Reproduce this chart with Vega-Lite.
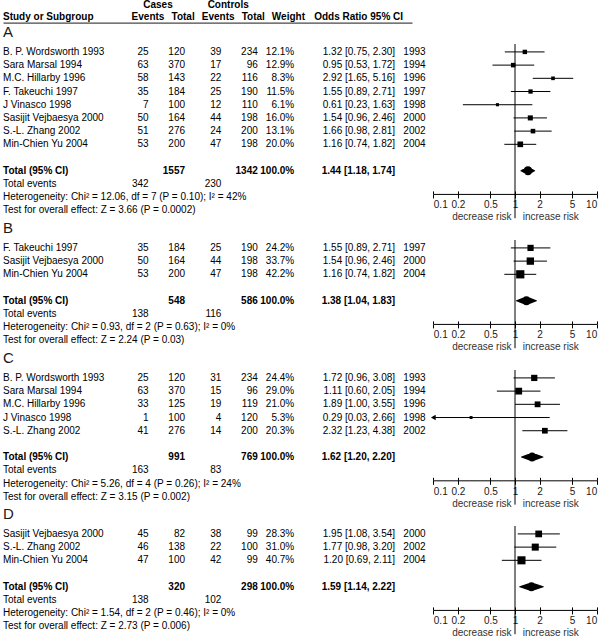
{
  "$schema": "https://vega.github.io/schema/vega-lite/v6.json",
  "padding": 0,
  "bounds": "flush",
  "spacing": 21,
  "config": {
    "view": {"stroke": null},
    "font": "Liberation Sans",
    "mark": {"color": "#1a1a1a"},
    "text": {"font": "Liberation Sans", "fontSize": 10, "baseline": "middle"},
    "title": {"font": "Liberation Sans", "fontSize": 15, "fontWeight": "normal", "color": "#1a1a1a", "anchor": "start", "frame": "group", "offset": 4, "baseline": "alphabetic", "dx": 3},
    "axis": {"labelFont": "Liberation Sans", "titleFont": "Liberation Sans"}
  },
  "datasets": {
    "header": [
      {"lvl": "grp", "key": "ce", "txt": "Cases"},
      {"lvl": "grp", "key": "xe", "txt": "Controls"},
      {"lvl": "col", "key": "name", "txt": "Study or Subgroup"},
      {"lvl": "col", "key": "ce", "txt": "Events"},
      {"lvl": "col", "key": "ct", "txt": "Total"},
      {"lvl": "col", "key": "xe", "txt": "Events"},
      {"lvl": "col", "key": "xt", "txt": "Total"},
      {"lvl": "col", "key": "w", "txt": "Weight"},
      {"lvl": "col", "key": "or", "txt": "Odds Ratio 95% CI"}
    ],
    "studies": [
      {"panel": "A", "lbl": "B. P. Wordsworth 1993", "ce": 25, "ct": 120, "xe": 39, "xt": 234, "w": 0.121, "or": 1.32, "lo": 0.75, "hi": 2.30, "ci": "1.32 [0.75, 2.30]", "yr": 1993},
      {"panel": "A", "lbl": "Sara Marsal 1994", "ce": 63, "ct": 370, "xe": 17, "xt": 96, "w": 0.129, "or": 0.95, "lo": 0.53, "hi": 1.72, "ci": "0.95 [0.53, 1.72]", "yr": 1994},
      {"panel": "A", "lbl": "M.C. Hillarby 1996", "ce": 58, "ct": 143, "xe": 22, "xt": 116, "w": 0.083, "or": 2.92, "lo": 1.65, "hi": 5.16, "ci": "2.92 [1.65, 5.16]", "yr": 1996},
      {"panel": "A", "lbl": "F. Takeuchi 1997", "ce": 35, "ct": 184, "xe": 25, "xt": 190, "w": 0.115, "or": 1.55, "lo": 0.89, "hi": 2.71, "ci": "1.55 [0.89, 2.71]", "yr": 1997},
      {"panel": "A", "lbl": "J Vinasco 1998", "ce": 7, "ct": 100, "xe": 12, "xt": 110, "w": 0.061, "or": 0.61, "lo": 0.23, "hi": 1.63, "ci": "0.61 [0.23, 1.63]", "yr": 1998},
      {"panel": "A", "lbl": "Sasijit Vejbaesya 2000", "ce": 50, "ct": 164, "xe": 44, "xt": 198, "w": 0.160, "or": 1.54, "lo": 0.96, "hi": 2.46, "ci": "1.54 [0.96, 2.46]", "yr": 2000},
      {"panel": "A", "lbl": "S.-L. Zhang 2002", "ce": 51, "ct": 276, "xe": 24, "xt": 200, "w": 0.131, "or": 1.66, "lo": 0.98, "hi": 2.81, "ci": "1.66 [0.98, 2.81]", "yr": 2002},
      {"panel": "A", "lbl": "Min-Chien Yu 2004", "ce": 53, "ct": 200, "xe": 47, "xt": 198, "w": 0.200, "or": 1.16, "lo": 0.74, "hi": 1.82, "ci": "1.16 [0.74, 1.82]", "yr": 2004},
      {"panel": "B", "lbl": "F. Takeuchi 1997", "ce": 35, "ct": 184, "xe": 25, "xt": 190, "w": 0.242, "or": 1.55, "lo": 0.89, "hi": 2.71, "ci": "1.55 [0.89, 2.71]", "yr": 1997},
      {"panel": "B", "lbl": "Sasijit Vejbaesya 2000", "ce": 50, "ct": 164, "xe": 44, "xt": 198, "w": 0.337, "or": 1.54, "lo": 0.96, "hi": 2.46, "ci": "1.54 [0.96, 2.46]", "yr": 2000},
      {"panel": "B", "lbl": "Min-Chien Yu 2004", "ce": 53, "ct": 200, "xe": 47, "xt": 198, "w": 0.422, "or": 1.16, "lo": 0.74, "hi": 1.82, "ci": "1.16 [0.74, 1.82]", "yr": 2004},
      {"panel": "C", "lbl": "B. P. Wordsworth 1993", "ce": 25, "ct": 120, "xe": 31, "xt": 234, "w": 0.244, "or": 1.72, "lo": 0.96, "hi": 3.08, "ci": "1.72 [0.96, 3.08]", "yr": 1993},
      {"panel": "C", "lbl": "Sara Marsal 1994", "ce": 63, "ct": 370, "xe": 15, "xt": 96, "w": 0.290, "or": 1.11, "lo": 0.60, "hi": 2.05, "ci": "1.11 [0.60, 2.05]", "yr": 1994},
      {"panel": "C", "lbl": "M.C. Hillarby 1996", "ce": 33, "ct": 125, "xe": 19, "xt": 119, "w": 0.210, "or": 1.89, "lo": 1.00, "hi": 3.55, "ci": "1.89 [1.00, 3.55]", "yr": 1996},
      {"panel": "C", "lbl": "J Vinasco 1998", "ce": 1, "ct": 100, "xe": 4, "xt": 120, "w": 0.053, "or": 0.29, "lo": 0.03, "hi": 2.66, "ci": "0.29 [0.03, 2.66]", "yr": 1998},
      {"panel": "C", "lbl": "S.-L. Zhang 2002", "ce": 41, "ct": 276, "xe": 14, "xt": 200, "w": 0.203, "or": 2.32, "lo": 1.23, "hi": 4.38, "ci": "2.32 [1.23, 4.38]", "yr": 2002},
      {"panel": "D", "lbl": "Sasijit Vejbaesya 2000", "ce": 45, "ct": 82, "xe": 38, "xt": 99, "w": 0.283, "or": 1.95, "lo": 1.08, "hi": 3.54, "ci": "1.95 [1.08, 3.54]", "yr": 2000},
      {"panel": "D", "lbl": "S.-L. Zhang 2002", "ce": 46, "ct": 138, "xe": 22, "xt": 100, "w": 0.310, "or": 1.77, "lo": 0.98, "hi": 3.20, "ci": "1.77 [0.98, 3.20]", "yr": 2002},
      {"panel": "D", "lbl": "Min-Chien Yu 2004", "ce": 47, "ct": 100, "xe": 42, "xt": 99, "w": 0.407, "or": 1.20, "lo": 0.69, "hi": 2.11, "ci": "1.20 [0.69, 2.11]", "yr": 2004}
    ],
    "summary": [
      {"panel": "A", "lbl": "Total (95% CI)", "ct": 1557, "xt": 1342, "w": 1, "or": 1.44, "lo": 1.18, "hi": 1.74, "ci": "1.44 [1.18, 1.74]"},
      {"panel": "A", "lbl": "Total events", "ce": 342, "xe": 230},
      {"panel": "A", "lbl": "Heterogeneity", "txt": "Heterogeneity: Chi² = 12.06, df = 7 (P = 0.10); I² = 42%"},
      {"panel": "A", "lbl": "Test", "txt": "Test for overall effect: Z = 3.66 (P = 0.0002)"},
      {"panel": "B", "lbl": "Total (95% CI)", "ct": 548, "xt": 586, "w": 1, "or": 1.38, "lo": 1.04, "hi": 1.83, "ci": "1.38 [1.04, 1.83]"},
      {"panel": "B", "lbl": "Total events", "ce": 138, "xe": 116},
      {"panel": "B", "lbl": "Heterogeneity", "txt": "Heterogeneity: Chi² = 0.93, df = 2 (P = 0.63); I² = 0%"},
      {"panel": "B", "lbl": "Test", "txt": "Test for overall effect: Z = 2.24 (P = 0.03)"},
      {"panel": "C", "lbl": "Total (95% CI)", "ct": 991, "xt": 769, "w": 1, "or": 1.62, "lo": 1.20, "hi": 2.20, "ci": "1.62 [1.20, 2.20]"},
      {"panel": "C", "lbl": "Total events", "ce": 163, "xe": 83},
      {"panel": "C", "lbl": "Heterogeneity", "txt": "Heterogeneity: Chi² = 5.26, df = 4 (P = 0.26); I² = 24%"},
      {"panel": "C", "lbl": "Test", "txt": "Test for overall effect: Z = 3.15 (P = 0.002)"},
      {"panel": "D", "lbl": "Total (95% CI)", "ct": 320, "xt": 298, "w": 1, "or": 1.59, "lo": 1.14, "hi": 2.22, "ci": "1.59 [1.14, 2.22]"},
      {"panel": "D", "lbl": "Total events", "ce": 138, "xe": 102},
      {"panel": "D", "lbl": "Heterogeneity", "txt": "Heterogeneity: Chi² = 1.54, df = 2 (P = 0.46); I² = 0%"},
      {"panel": "D", "lbl": "Test", "txt": "Test for overall effect: Z = 2.73 (P = 0.006)"}
    ]
  },
  "vconcat": [
    {
      "width": 600, "height": 22.6,
      "data": {"name": "header"},
      "encoding": {"y": {"field": "lvl", "type": "nominal", "scale": {"type": "point", "domain": ["grp", "col"], "padding": 0.44}, "axis": null}},
      "layer": [
        {"transform": [{"filter": "datum.lvl === 'grp'"}], "mark": {"type": "text", "fontWeight": "bold", "dx": 10},
         "encoding": {"x": {"field": "key", "type": "nominal", "scale": {"type": "point", "domain": ["name","h1","h2","h3","ce","ct","xe","xt","w","h9","or"], "range": [3, 412], "padding": 0.8262, "align": 0.0793}, "axis": {"orient": "bottom", "labels": false, "ticks": false, "domain": true, "domainColor": "#1a1a1a", "domainWidth": 1, "title": null, "grid": false}},
                      "text": {"field": "txt", "type": "nominal"}}},
        {"transform": [{"filter": "datum.key === 'name'"}], "mark": {"type": "text", "fontWeight": "bold", "align": "left", "dx": -4.6},
         "encoding": {"x": {"field": "key", "type": "nominal", "scale": {"type": "point", "domain": ["name","h1","h2","h3","ce","ct","xe","xt","w","h9","or"], "range": [3, 412], "padding": 0.8262, "align": 0.0793}, "axis": {"orient": "bottom", "labels": false, "ticks": false, "domain": true, "domainColor": "#1a1a1a", "domainWidth": 1, "title": null, "grid": false}},
                      "text": {"field": "txt", "type": "nominal"}}},
        {"transform": [{"filter": "datum.lvl === 'col' && datum.key !== 'name'"}], "mark": {"type": "text", "fontWeight": "bold"},
         "encoding": {"x": {"field": "key", "type": "nominal", "scale": {"type": "point", "domain": ["name","h1","h2","h3","ce","ct","xe","xt","w","h9","or"], "range": [3, 412], "padding": 0.8262, "align": 0.0793}, "axis": {"orient": "bottom", "labels": false, "ticks": false, "domain": true, "domainColor": "#1a1a1a", "domainWidth": 1, "title": null, "grid": false}},
                      "text": {"field": "txt", "type": "nominal"}}}
      ]
    },
    {
      "width": 600, "height": 174.24,
      "title": "A",
      "resolve": {"scale": {"x": "independent"}},
      "layer": [
        {"data": {"name": "studies"}, "transform": [{"filter": "datum.panel === 'A'"}],
         "encoding": {"y": {"field": "lbl", "type": "nominal", "scale": {"type": "point", "domain": ["B. P. Wordsworth 1993","Sara Marsal 1994","M.C. Hillarby 1996","F. Takeuchi 1997","J Vinasco 1998","Sasijit Vejbaesya 2000","S.-L. Zhang 2002","Min-Chien Yu 2004"," ","Total (95% CI)","Total events","Heterogeneity","Test"], "padding": 0.6}, "axis": null}},
         "layer": [
           {"mark": {"type": "text", "align": "left"}, "encoding": {"x": {"datum": "name", "type": "nominal", "scale": {"type": "point", "domain": ["name","s1","s2","s3","ce","ct","xe","xt","w","s9","s10","yr"], "range": [3.06, 403.35], "padding": 0}, "axis": null}, "text": {"field": "lbl", "type": "nominal"}}},
           {"transform": [{"fold": ["ce","ct","xe","xt"], "as": ["col","val"]}], "mark": {"type": "text", "align": "right"}, "encoding": {"x": {"field": "col", "type": "nominal", "scale": {"type": "point", "domain": ["name","s1","s2","s3","ce","ct","xe","xt","w","s9","s10","yr"], "range": [3.06, 403.35], "padding": 0}, "axis": null}, "text": {"field": "val", "type": "nominal"}}},
           {"mark": {"type": "text", "align": "right"}, "encoding": {"x": {"datum": "w", "type": "nominal", "scale": {"type": "point", "domain": ["name","s1","s2","s3","ce","ct","xe","xt","w","s9","s10","yr"], "range": [3.06, 403.35], "padding": 0}, "axis": null}, "text": {"field": "w", "type": "quantitative", "format": ".1%"}}},
           {"mark": {"type": "text", "align": "right", "dx": -8.3}, "encoding": {"x": {"datum": "yr", "type": "nominal", "scale": {"type": "point", "domain": ["name","s1","s2","s3","ce","ct","xe","xt","w","s9","s10","yr"], "range": [3.06, 403.35], "padding": 0}, "axis": null}, "text": {"field": "ci", "type": "nominal"}}},
           {"mark": {"type": "text", "align": "left"}, "encoding": {"x": {"datum": "yr", "type": "nominal", "scale": {"type": "point", "domain": ["name","s1","s2","s3","ce","ct","xe","xt","w","s9","s10","yr"], "range": [3.06, 403.35], "padding": 0}, "axis": null}, "text": {"field": "yr", "type": "nominal"}}}
         ]},
        {"data": {"name": "summary"}, "transform": [{"filter": "datum.panel === 'A'"}],
         "encoding": {"y": {"field": "lbl", "type": "nominal", "scale": {"type": "point", "domain": ["B. P. Wordsworth 1993","Sara Marsal 1994","M.C. Hillarby 1996","F. Takeuchi 1997","J Vinasco 1998","Sasijit Vejbaesya 2000","S.-L. Zhang 2002","Min-Chien Yu 2004"," ","Total (95% CI)","Total events","Heterogeneity","Test"], "padding": 0.6}, "axis": null}},
         "layer": [
           {"transform": [{"filter": "datum.lbl === 'Total (95% CI)'"}], "mark": {"type": "text", "align": "left", "fontWeight": "bold"}, "encoding": {"x": {"datum": "name", "type": "nominal", "scale": {"type": "point", "domain": ["name","s1","s2","s3","ce","ct","xe","xt","w","s9","s10","yr"], "range": [3.06, 403.35], "padding": 0}, "axis": null}, "text": {"field": "lbl", "type": "nominal"}}},
           {"transform": [{"filter": "datum.lbl === 'Total (95% CI)'"}, {"fold": ["ct","xt"], "as": ["col","val"]}], "mark": {"type": "text", "align": "right", "fontWeight": "bold"}, "encoding": {"x": {"field": "col", "type": "nominal", "scale": {"type": "point", "domain": ["name","s1","s2","s3","ce","ct","xe","xt","w","s9","s10","yr"], "range": [3.06, 403.35], "padding": 0}, "axis": null}, "text": {"field": "val", "type": "nominal"}}},
           {"transform": [{"filter": "datum.lbl === 'Total (95% CI)'"}], "mark": {"type": "text", "align": "right", "fontWeight": "bold"}, "encoding": {"x": {"datum": "w", "type": "nominal", "scale": {"type": "point", "domain": ["name","s1","s2","s3","ce","ct","xe","xt","w","s9","s10","yr"], "range": [3.06, 403.35], "padding": 0}, "axis": null}, "text": {"field": "w", "type": "quantitative", "format": ".1%"}}},
           {"transform": [{"filter": "datum.lbl === 'Total (95% CI)'"}], "mark": {"type": "text", "align": "right", "fontWeight": "bold", "dx": -8.3}, "encoding": {"x": {"datum": "yr", "type": "nominal", "scale": {"type": "point", "domain": ["name","s1","s2","s3","ce","ct","xe","xt","w","s9","s10","yr"], "range": [3.06, 403.35], "padding": 0}, "axis": null}, "text": {"field": "ci", "type": "nominal"}}},
           {"transform": [{"filter": "datum.lbl === 'Total events'"}], "mark": {"type": "text", "align": "left"}, "encoding": {"x": {"datum": "name", "type": "nominal", "scale": {"type": "point", "domain": ["name","s1","s2","s3","ce","ct","xe","xt","w","s9","s10","yr"], "range": [3.06, 403.35], "padding": 0}, "axis": null}, "text": {"field": "lbl", "type": "nominal"}}},
           {"transform": [{"filter": "datum.lbl === 'Total events'"}, {"fold": ["ce","xe"], "as": ["col","val"]}], "mark": {"type": "text", "align": "right"}, "encoding": {"x": {"field": "col", "type": "nominal", "scale": {"type": "point", "domain": ["name","s1","s2","s3","ce","ct","xe","xt","w","s9","s10","yr"], "range": [3.06, 403.35], "padding": 0}, "axis": null}, "text": {"field": "val", "type": "nominal"}}},
           {"transform": [{"filter": "isValid(datum.txt)"}], "mark": {"type": "text", "align": "left"}, "encoding": {"x": {"datum": "name", "type": "nominal", "scale": {"type": "point", "domain": ["name","s1","s2","s3","ce","ct","xe","xt","w","s9","s10","yr"], "range": [3.06, 403.35], "padding": 0}, "axis": null}, "text": {"field": "txt", "type": "nominal"}}}
         ]},
        {"data": {"name": "summary"}, "transform": [{"filter": "datum.panel === 'A' && datum.lbl === 'Total (95% CI)'"}],
         "mark": {"type": "rule", "color": "#000", "y2Offset": -24.32},
         "encoding": {"x": {"datum": 1, "type": "quantitative", "scale": {"type": "log", "domain": [0.1, 10], "range": [433.3, 596.7], "clamp": true, "nice": false},
           "axis": {"orient": "bottom", "offset": -24.32, "values": [0.1, 0.2, 0.5, 1, 2, 5, 10], "format": "~g", "labelFlush": true, "labelOverlap": false, "grid": false, "tickSize": 4, "tickColor": "#000", "domainColor": "#000", "labelColor": "#1a1a1a", "labelFontSize": 10, "labelPadding": 2, "title": "decrease risk\u00a0\u00a0\u00a0 increase risk", "titleFontSize": 10, "titleFontWeight": "normal", "titleColor": "#333", "titlePadding": 2}}}},
        {"data": {"name": "studies"}, "transform": [{"filter": "datum.panel === 'A'"}],
         "encoding": {"y": {"field": "lbl", "type": "nominal", "scale": {"type": "point", "domain": ["B. P. Wordsworth 1993","Sara Marsal 1994","M.C. Hillarby 1996","F. Takeuchi 1997","J Vinasco 1998","Sasijit Vejbaesya 2000","S.-L. Zhang 2002","Min-Chien Yu 2004"," ","Total (95% CI)","Total events","Heterogeneity","Test"], "padding": 0.6}, "axis": null}},
         "layer": [
           {"mark": {"type": "rule", "color": "#000"}, "encoding": {"x": {"field": "lo", "type": "quantitative", "scale": {"type": "log", "domain": [0.1, 10], "range": [433.3, 596.7], "clamp": true, "nice": false}, "axis": null}, "x2": {"field": "hi"}}},
           {"mark": {"type": "point", "shape": "square", "filled": true, "opacity": 1, "color": "#000"}, "encoding": {"x": {"field": "or", "type": "quantitative", "scale": {"type": "log", "domain": [0.1, 10], "range": [433.3, 596.7], "clamp": true, "nice": false}, "axis": null}, "size": {"field": "w", "type": "quantitative", "scale": {"domain": [0, 1], "range": [0, 160]}, "legend": null}}},
           {"transform": [{"filter": "datum.lo < 0.1"}], "mark": {"type": "point", "shape": "triangle-left", "filled": true, "opacity": 1, "size": 30, "color": "#000"}, "encoding": {"x": {"field": "lo", "type": "quantitative", "scale": {"type": "log", "domain": [0.1, 10], "range": [433.3, 596.7], "clamp": true, "nice": false}, "axis": null}}}
         ]},
        {"data": {"name": "summary"}, "transform": [{"filter": "datum.panel === 'A' && datum.lbl === 'Total (95% CI)'"}, {"fold": ["lo","or","hi"], "as": ["k","v"]}],
         "mark": {"type": "trail", "color": "#000"},
         "encoding": {"x": {"field": "v", "type": "quantitative", "scale": {"type": "log", "domain": [0.1, 10], "range": [433.3, 596.7], "clamp": true, "nice": false}, "axis": {"orient": "bottom", "offset": -24.32, "values": [0.1, 0.2, 0.5, 1, 2, 5, 10], "labels": false, "domain": false, "grid": false, "tickSize": -3, "tickColor": "#000", "title": null}},
                      "y": {"field": "lbl", "type": "nominal", "scale": {"type": "point", "domain": ["B. P. Wordsworth 1993","Sara Marsal 1994","M.C. Hillarby 1996","F. Takeuchi 1997","J Vinasco 1998","Sasijit Vejbaesya 2000","S.-L. Zhang 2002","Min-Chien Yu 2004"," ","Total (95% CI)","Total events","Heterogeneity","Test"], "padding": 0.6}, "axis": null},
                      "size": {"condition": {"test": "datum.k === 'or'", "value": 9}, "value": 0}}}
      ]
    },
    {
      "width": 600, "height": 108.24,
      "title": "B",
      "resolve": {"scale": {"x": "independent"}},
      "layer": [
        {"data": {"name": "studies"}, "transform": [{"filter": "datum.panel === 'B'"}],
         "encoding": {"y": {"field": "lbl", "type": "nominal", "scale": {"type": "point", "domain": ["F. Takeuchi 1997","Sasijit Vejbaesya 2000","Min-Chien Yu 2004"," ","Total (95% CI)","Total events","Heterogeneity","Test"], "padding": 0.6}, "axis": null}},
         "layer": [
           {"mark": {"type": "text", "align": "left"}, "encoding": {"x": {"datum": "name", "type": "nominal", "scale": {"type": "point", "domain": ["name","s1","s2","s3","ce","ct","xe","xt","w","s9","s10","yr"], "range": [3.06, 403.35], "padding": 0}, "axis": null}, "text": {"field": "lbl", "type": "nominal"}}},
           {"transform": [{"fold": ["ce","ct","xe","xt"], "as": ["col","val"]}], "mark": {"type": "text", "align": "right"}, "encoding": {"x": {"field": "col", "type": "nominal", "scale": {"type": "point", "domain": ["name","s1","s2","s3","ce","ct","xe","xt","w","s9","s10","yr"], "range": [3.06, 403.35], "padding": 0}, "axis": null}, "text": {"field": "val", "type": "nominal"}}},
           {"mark": {"type": "text", "align": "right"}, "encoding": {"x": {"datum": "w", "type": "nominal", "scale": {"type": "point", "domain": ["name","s1","s2","s3","ce","ct","xe","xt","w","s9","s10","yr"], "range": [3.06, 403.35], "padding": 0}, "axis": null}, "text": {"field": "w", "type": "quantitative", "format": ".1%"}}},
           {"mark": {"type": "text", "align": "right", "dx": -8.3}, "encoding": {"x": {"datum": "yr", "type": "nominal", "scale": {"type": "point", "domain": ["name","s1","s2","s3","ce","ct","xe","xt","w","s9","s10","yr"], "range": [3.06, 403.35], "padding": 0}, "axis": null}, "text": {"field": "ci", "type": "nominal"}}},
           {"mark": {"type": "text", "align": "left"}, "encoding": {"x": {"datum": "yr", "type": "nominal", "scale": {"type": "point", "domain": ["name","s1","s2","s3","ce","ct","xe","xt","w","s9","s10","yr"], "range": [3.06, 403.35], "padding": 0}, "axis": null}, "text": {"field": "yr", "type": "nominal"}}}
         ]},
        {"data": {"name": "summary"}, "transform": [{"filter": "datum.panel === 'B'"}],
         "encoding": {"y": {"field": "lbl", "type": "nominal", "scale": {"type": "point", "domain": ["F. Takeuchi 1997","Sasijit Vejbaesya 2000","Min-Chien Yu 2004"," ","Total (95% CI)","Total events","Heterogeneity","Test"], "padding": 0.6}, "axis": null}},
         "layer": [
           {"transform": [{"filter": "datum.lbl === 'Total (95% CI)'"}], "mark": {"type": "text", "align": "left", "fontWeight": "bold"}, "encoding": {"x": {"datum": "name", "type": "nominal", "scale": {"type": "point", "domain": ["name","s1","s2","s3","ce","ct","xe","xt","w","s9","s10","yr"], "range": [3.06, 403.35], "padding": 0}, "axis": null}, "text": {"field": "lbl", "type": "nominal"}}},
           {"transform": [{"filter": "datum.lbl === 'Total (95% CI)'"}, {"fold": ["ct","xt"], "as": ["col","val"]}], "mark": {"type": "text", "align": "right", "fontWeight": "bold"}, "encoding": {"x": {"field": "col", "type": "nominal", "scale": {"type": "point", "domain": ["name","s1","s2","s3","ce","ct","xe","xt","w","s9","s10","yr"], "range": [3.06, 403.35], "padding": 0}, "axis": null}, "text": {"field": "val", "type": "nominal"}}},
           {"transform": [{"filter": "datum.lbl === 'Total (95% CI)'"}], "mark": {"type": "text", "align": "right", "fontWeight": "bold"}, "encoding": {"x": {"datum": "w", "type": "nominal", "scale": {"type": "point", "domain": ["name","s1","s2","s3","ce","ct","xe","xt","w","s9","s10","yr"], "range": [3.06, 403.35], "padding": 0}, "axis": null}, "text": {"field": "w", "type": "quantitative", "format": ".1%"}}},
           {"transform": [{"filter": "datum.lbl === 'Total (95% CI)'"}], "mark": {"type": "text", "align": "right", "fontWeight": "bold", "dx": -8.3}, "encoding": {"x": {"datum": "yr", "type": "nominal", "scale": {"type": "point", "domain": ["name","s1","s2","s3","ce","ct","xe","xt","w","s9","s10","yr"], "range": [3.06, 403.35], "padding": 0}, "axis": null}, "text": {"field": "ci", "type": "nominal"}}},
           {"transform": [{"filter": "datum.lbl === 'Total events'"}], "mark": {"type": "text", "align": "left"}, "encoding": {"x": {"datum": "name", "type": "nominal", "scale": {"type": "point", "domain": ["name","s1","s2","s3","ce","ct","xe","xt","w","s9","s10","yr"], "range": [3.06, 403.35], "padding": 0}, "axis": null}, "text": {"field": "lbl", "type": "nominal"}}},
           {"transform": [{"filter": "datum.lbl === 'Total events'"}, {"fold": ["ce","xe"], "as": ["col","val"]}], "mark": {"type": "text", "align": "right"}, "encoding": {"x": {"field": "col", "type": "nominal", "scale": {"type": "point", "domain": ["name","s1","s2","s3","ce","ct","xe","xt","w","s9","s10","yr"], "range": [3.06, 403.35], "padding": 0}, "axis": null}, "text": {"field": "val", "type": "nominal"}}},
           {"transform": [{"filter": "isValid(datum.txt)"}], "mark": {"type": "text", "align": "left"}, "encoding": {"x": {"datum": "name", "type": "nominal", "scale": {"type": "point", "domain": ["name","s1","s2","s3","ce","ct","xe","xt","w","s9","s10","yr"], "range": [3.06, 403.35], "padding": 0}, "axis": null}, "text": {"field": "txt", "type": "nominal"}}}
         ]},
        {"data": {"name": "summary"}, "transform": [{"filter": "datum.panel === 'B' && datum.lbl === 'Total (95% CI)'"}],
         "mark": {"type": "rule", "color": "#000", "y2Offset": -24.32},
         "encoding": {"x": {"datum": 1, "type": "quantitative", "scale": {"type": "log", "domain": [0.1, 10], "range": [433.3, 596.7], "clamp": true, "nice": false},
           "axis": {"orient": "bottom", "offset": -24.32, "values": [0.1, 0.2, 0.5, 1, 2, 5, 10], "format": "~g", "labelFlush": true, "labelOverlap": false, "grid": false, "tickSize": 4, "tickColor": "#000", "domainColor": "#000", "labelColor": "#1a1a1a", "labelFontSize": 10, "labelPadding": 2, "title": "decrease risk\u00a0\u00a0\u00a0 increase risk", "titleFontSize": 10, "titleFontWeight": "normal", "titleColor": "#333", "titlePadding": 2}}}},
        {"data": {"name": "studies"}, "transform": [{"filter": "datum.panel === 'B'"}],
         "encoding": {"y": {"field": "lbl", "type": "nominal", "scale": {"type": "point", "domain": ["F. Takeuchi 1997","Sasijit Vejbaesya 2000","Min-Chien Yu 2004"," ","Total (95% CI)","Total events","Heterogeneity","Test"], "padding": 0.6}, "axis": null}},
         "layer": [
           {"mark": {"type": "rule", "color": "#000"}, "encoding": {"x": {"field": "lo", "type": "quantitative", "scale": {"type": "log", "domain": [0.1, 10], "range": [433.3, 596.7], "clamp": true, "nice": false}, "axis": null}, "x2": {"field": "hi"}}},
           {"mark": {"type": "point", "shape": "square", "filled": true, "opacity": 1, "color": "#000"}, "encoding": {"x": {"field": "or", "type": "quantitative", "scale": {"type": "log", "domain": [0.1, 10], "range": [433.3, 596.7], "clamp": true, "nice": false}, "axis": null}, "size": {"field": "w", "type": "quantitative", "scale": {"domain": [0, 1], "range": [0, 160]}, "legend": null}}}
         ]},
        {"data": {"name": "summary"}, "transform": [{"filter": "datum.panel === 'B' && datum.lbl === 'Total (95% CI)'"}, {"fold": ["lo","or","hi"], "as": ["k","v"]}],
         "mark": {"type": "trail", "color": "#000"},
         "encoding": {"x": {"field": "v", "type": "quantitative", "scale": {"type": "log", "domain": [0.1, 10], "range": [433.3, 596.7], "clamp": true, "nice": false}, "axis": {"orient": "bottom", "offset": -24.32, "values": [0.1, 0.2, 0.5, 1, 2, 5, 10], "labels": false, "domain": false, "grid": false, "tickSize": -3, "tickColor": "#000", "title": null}},
                      "y": {"field": "lbl", "type": "nominal", "scale": {"type": "point", "domain": ["F. Takeuchi 1997","Sasijit Vejbaesya 2000","Min-Chien Yu 2004"," ","Total (95% CI)","Total events","Heterogeneity","Test"], "padding": 0.6}, "axis": null},
                      "size": {"condition": {"test": "datum.k === 'or'", "value": 9}, "value": 0}}}
      ]
    },
    {
      "width": 600, "height": 134.64,
      "title": "C",
      "resolve": {"scale": {"x": "independent"}},
      "layer": [
        {"data": {"name": "studies"}, "transform": [{"filter": "datum.panel === 'C'"}],
         "encoding": {"y": {"field": "lbl", "type": "nominal", "scale": {"type": "point", "domain": ["B. P. Wordsworth 1993","Sara Marsal 1994","M.C. Hillarby 1996","J Vinasco 1998","S.-L. Zhang 2002"," ","Total (95% CI)","Total events","Heterogeneity","Test"], "padding": 0.6}, "axis": null}},
         "layer": [
           {"mark": {"type": "text", "align": "left"}, "encoding": {"x": {"datum": "name", "type": "nominal", "scale": {"type": "point", "domain": ["name","s1","s2","s3","ce","ct","xe","xt","w","s9","s10","yr"], "range": [3.06, 403.35], "padding": 0}, "axis": null}, "text": {"field": "lbl", "type": "nominal"}}},
           {"transform": [{"fold": ["ce","ct","xe","xt"], "as": ["col","val"]}], "mark": {"type": "text", "align": "right"}, "encoding": {"x": {"field": "col", "type": "nominal", "scale": {"type": "point", "domain": ["name","s1","s2","s3","ce","ct","xe","xt","w","s9","s10","yr"], "range": [3.06, 403.35], "padding": 0}, "axis": null}, "text": {"field": "val", "type": "nominal"}}},
           {"mark": {"type": "text", "align": "right"}, "encoding": {"x": {"datum": "w", "type": "nominal", "scale": {"type": "point", "domain": ["name","s1","s2","s3","ce","ct","xe","xt","w","s9","s10","yr"], "range": [3.06, 403.35], "padding": 0}, "axis": null}, "text": {"field": "w", "type": "quantitative", "format": ".1%"}}},
           {"mark": {"type": "text", "align": "right", "dx": -8.3}, "encoding": {"x": {"datum": "yr", "type": "nominal", "scale": {"type": "point", "domain": ["name","s1","s2","s3","ce","ct","xe","xt","w","s9","s10","yr"], "range": [3.06, 403.35], "padding": 0}, "axis": null}, "text": {"field": "ci", "type": "nominal"}}},
           {"mark": {"type": "text", "align": "left"}, "encoding": {"x": {"datum": "yr", "type": "nominal", "scale": {"type": "point", "domain": ["name","s1","s2","s3","ce","ct","xe","xt","w","s9","s10","yr"], "range": [3.06, 403.35], "padding": 0}, "axis": null}, "text": {"field": "yr", "type": "nominal"}}}
         ]},
        {"data": {"name": "summary"}, "transform": [{"filter": "datum.panel === 'C'"}],
         "encoding": {"y": {"field": "lbl", "type": "nominal", "scale": {"type": "point", "domain": ["B. P. Wordsworth 1993","Sara Marsal 1994","M.C. Hillarby 1996","J Vinasco 1998","S.-L. Zhang 2002"," ","Total (95% CI)","Total events","Heterogeneity","Test"], "padding": 0.6}, "axis": null}},
         "layer": [
           {"transform": [{"filter": "datum.lbl === 'Total (95% CI)'"}], "mark": {"type": "text", "align": "left", "fontWeight": "bold"}, "encoding": {"x": {"datum": "name", "type": "nominal", "scale": {"type": "point", "domain": ["name","s1","s2","s3","ce","ct","xe","xt","w","s9","s10","yr"], "range": [3.06, 403.35], "padding": 0}, "axis": null}, "text": {"field": "lbl", "type": "nominal"}}},
           {"transform": [{"filter": "datum.lbl === 'Total (95% CI)'"}, {"fold": ["ct","xt"], "as": ["col","val"]}], "mark": {"type": "text", "align": "right", "fontWeight": "bold"}, "encoding": {"x": {"field": "col", "type": "nominal", "scale": {"type": "point", "domain": ["name","s1","s2","s3","ce","ct","xe","xt","w","s9","s10","yr"], "range": [3.06, 403.35], "padding": 0}, "axis": null}, "text": {"field": "val", "type": "nominal"}}},
           {"transform": [{"filter": "datum.lbl === 'Total (95% CI)'"}], "mark": {"type": "text", "align": "right", "fontWeight": "bold"}, "encoding": {"x": {"datum": "w", "type": "nominal", "scale": {"type": "point", "domain": ["name","s1","s2","s3","ce","ct","xe","xt","w","s9","s10","yr"], "range": [3.06, 403.35], "padding": 0}, "axis": null}, "text": {"field": "w", "type": "quantitative", "format": ".1%"}}},
           {"transform": [{"filter": "datum.lbl === 'Total (95% CI)'"}], "mark": {"type": "text", "align": "right", "fontWeight": "bold", "dx": -8.3}, "encoding": {"x": {"datum": "yr", "type": "nominal", "scale": {"type": "point", "domain": ["name","s1","s2","s3","ce","ct","xe","xt","w","s9","s10","yr"], "range": [3.06, 403.35], "padding": 0}, "axis": null}, "text": {"field": "ci", "type": "nominal"}}},
           {"transform": [{"filter": "datum.lbl === 'Total events'"}], "mark": {"type": "text", "align": "left"}, "encoding": {"x": {"datum": "name", "type": "nominal", "scale": {"type": "point", "domain": ["name","s1","s2","s3","ce","ct","xe","xt","w","s9","s10","yr"], "range": [3.06, 403.35], "padding": 0}, "axis": null}, "text": {"field": "lbl", "type": "nominal"}}},
           {"transform": [{"filter": "datum.lbl === 'Total events'"}, {"fold": ["ce","xe"], "as": ["col","val"]}], "mark": {"type": "text", "align": "right"}, "encoding": {"x": {"field": "col", "type": "nominal", "scale": {"type": "point", "domain": ["name","s1","s2","s3","ce","ct","xe","xt","w","s9","s10","yr"], "range": [3.06, 403.35], "padding": 0}, "axis": null}, "text": {"field": "val", "type": "nominal"}}},
           {"transform": [{"filter": "isValid(datum.txt)"}], "mark": {"type": "text", "align": "left"}, "encoding": {"x": {"datum": "name", "type": "nominal", "scale": {"type": "point", "domain": ["name","s1","s2","s3","ce","ct","xe","xt","w","s9","s10","yr"], "range": [3.06, 403.35], "padding": 0}, "axis": null}, "text": {"field": "txt", "type": "nominal"}}}
         ]},
        {"data": {"name": "summary"}, "transform": [{"filter": "datum.panel === 'C' && datum.lbl === 'Total (95% CI)'"}],
         "mark": {"type": "rule", "color": "#000", "y2Offset": -24.32},
         "encoding": {"x": {"datum": 1, "type": "quantitative", "scale": {"type": "log", "domain": [0.1, 10], "range": [433.3, 596.7], "clamp": true, "nice": false},
           "axis": {"orient": "bottom", "offset": -24.32, "values": [0.1, 0.2, 0.5, 1, 2, 5, 10], "format": "~g", "labelFlush": true, "labelOverlap": false, "grid": false, "tickSize": 4, "tickColor": "#000", "domainColor": "#000", "labelColor": "#1a1a1a", "labelFontSize": 10, "labelPadding": 2, "title": "decrease risk\u00a0\u00a0\u00a0 increase risk", "titleFontSize": 10, "titleFontWeight": "normal", "titleColor": "#333", "titlePadding": 2}}}},
        {"data": {"name": "studies"}, "transform": [{"filter": "datum.panel === 'C'"}],
         "encoding": {"y": {"field": "lbl", "type": "nominal", "scale": {"type": "point", "domain": ["B. P. Wordsworth 1993","Sara Marsal 1994","M.C. Hillarby 1996","J Vinasco 1998","S.-L. Zhang 2002"," ","Total (95% CI)","Total events","Heterogeneity","Test"], "padding": 0.6}, "axis": null}},
         "layer": [
           {"mark": {"type": "rule", "color": "#000"}, "encoding": {"x": {"field": "lo", "type": "quantitative", "scale": {"type": "log", "domain": [0.1, 10], "range": [433.3, 596.7], "clamp": true, "nice": false}, "axis": null}, "x2": {"field": "hi"}}},
           {"mark": {"type": "point", "shape": "square", "filled": true, "opacity": 1, "color": "#000"}, "encoding": {"x": {"field": "or", "type": "quantitative", "scale": {"type": "log", "domain": [0.1, 10], "range": [433.3, 596.7], "clamp": true, "nice": false}, "axis": null}, "size": {"field": "w", "type": "quantitative", "scale": {"domain": [0, 1], "range": [0, 160]}, "legend": null}}},
           {"transform": [{"filter": "datum.lo < 0.1"}], "mark": {"type": "point", "shape": "triangle-left", "filled": true, "opacity": 1, "size": 30, "color": "#000"}, "encoding": {"x": {"field": "lo", "type": "quantitative", "scale": {"type": "log", "domain": [0.1, 10], "range": [433.3, 596.7], "clamp": true, "nice": false}, "axis": null}}}
         ]},
        {"data": {"name": "summary"}, "transform": [{"filter": "datum.panel === 'C' && datum.lbl === 'Total (95% CI)'"}, {"fold": ["lo","or","hi"], "as": ["k","v"]}],
         "mark": {"type": "trail", "color": "#000"},
         "encoding": {"x": {"field": "v", "type": "quantitative", "scale": {"type": "log", "domain": [0.1, 10], "range": [433.3, 596.7], "clamp": true, "nice": false}, "axis": {"orient": "bottom", "offset": -24.32, "values": [0.1, 0.2, 0.5, 1, 2, 5, 10], "labels": false, "domain": false, "grid": false, "tickSize": -3, "tickColor": "#000", "title": null}},
                      "y": {"field": "lbl", "type": "nominal", "scale": {"type": "point", "domain": ["B. P. Wordsworth 1993","Sara Marsal 1994","M.C. Hillarby 1996","J Vinasco 1998","S.-L. Zhang 2002"," ","Total (95% CI)","Total events","Heterogeneity","Test"], "padding": 0.6}, "axis": null},
                      "size": {"condition": {"test": "datum.k === 'or'", "value": 9}, "value": 0}}}
      ]
    },
    {
      "width": 600, "height": 108.24,
      "title": "D",
      "resolve": {"scale": {"x": "independent"}},
      "layer": [
        {"data": {"name": "studies"}, "transform": [{"filter": "datum.panel === 'D'"}],
         "encoding": {"y": {"field": "lbl", "type": "nominal", "scale": {"type": "point", "domain": ["Sasijit Vejbaesya 2000","S.-L. Zhang 2002","Min-Chien Yu 2004"," ","Total (95% CI)","Total events","Heterogeneity","Test"], "padding": 0.6}, "axis": null}},
         "layer": [
           {"mark": {"type": "text", "align": "left"}, "encoding": {"x": {"datum": "name", "type": "nominal", "scale": {"type": "point", "domain": ["name","s1","s2","s3","ce","ct","xe","xt","w","s9","s10","yr"], "range": [3.06, 403.35], "padding": 0}, "axis": null}, "text": {"field": "lbl", "type": "nominal"}}},
           {"transform": [{"fold": ["ce","ct","xe","xt"], "as": ["col","val"]}], "mark": {"type": "text", "align": "right"}, "encoding": {"x": {"field": "col", "type": "nominal", "scale": {"type": "point", "domain": ["name","s1","s2","s3","ce","ct","xe","xt","w","s9","s10","yr"], "range": [3.06, 403.35], "padding": 0}, "axis": null}, "text": {"field": "val", "type": "nominal"}}},
           {"mark": {"type": "text", "align": "right"}, "encoding": {"x": {"datum": "w", "type": "nominal", "scale": {"type": "point", "domain": ["name","s1","s2","s3","ce","ct","xe","xt","w","s9","s10","yr"], "range": [3.06, 403.35], "padding": 0}, "axis": null}, "text": {"field": "w", "type": "quantitative", "format": ".1%"}}},
           {"mark": {"type": "text", "align": "right", "dx": -8.3}, "encoding": {"x": {"datum": "yr", "type": "nominal", "scale": {"type": "point", "domain": ["name","s1","s2","s3","ce","ct","xe","xt","w","s9","s10","yr"], "range": [3.06, 403.35], "padding": 0}, "axis": null}, "text": {"field": "ci", "type": "nominal"}}},
           {"mark": {"type": "text", "align": "left"}, "encoding": {"x": {"datum": "yr", "type": "nominal", "scale": {"type": "point", "domain": ["name","s1","s2","s3","ce","ct","xe","xt","w","s9","s10","yr"], "range": [3.06, 403.35], "padding": 0}, "axis": null}, "text": {"field": "yr", "type": "nominal"}}}
         ]},
        {"data": {"name": "summary"}, "transform": [{"filter": "datum.panel === 'D'"}],
         "encoding": {"y": {"field": "lbl", "type": "nominal", "scale": {"type": "point", "domain": ["Sasijit Vejbaesya 2000","S.-L. Zhang 2002","Min-Chien Yu 2004"," ","Total (95% CI)","Total events","Heterogeneity","Test"], "padding": 0.6}, "axis": null}},
         "layer": [
           {"transform": [{"filter": "datum.lbl === 'Total (95% CI)'"}], "mark": {"type": "text", "align": "left", "fontWeight": "bold"}, "encoding": {"x": {"datum": "name", "type": "nominal", "scale": {"type": "point", "domain": ["name","s1","s2","s3","ce","ct","xe","xt","w","s9","s10","yr"], "range": [3.06, 403.35], "padding": 0}, "axis": null}, "text": {"field": "lbl", "type": "nominal"}}},
           {"transform": [{"filter": "datum.lbl === 'Total (95% CI)'"}, {"fold": ["ct","xt"], "as": ["col","val"]}], "mark": {"type": "text", "align": "right", "fontWeight": "bold"}, "encoding": {"x": {"field": "col", "type": "nominal", "scale": {"type": "point", "domain": ["name","s1","s2","s3","ce","ct","xe","xt","w","s9","s10","yr"], "range": [3.06, 403.35], "padding": 0}, "axis": null}, "text": {"field": "val", "type": "nominal"}}},
           {"transform": [{"filter": "datum.lbl === 'Total (95% CI)'"}], "mark": {"type": "text", "align": "right", "fontWeight": "bold"}, "encoding": {"x": {"datum": "w", "type": "nominal", "scale": {"type": "point", "domain": ["name","s1","s2","s3","ce","ct","xe","xt","w","s9","s10","yr"], "range": [3.06, 403.35], "padding": 0}, "axis": null}, "text": {"field": "w", "type": "quantitative", "format": ".1%"}}},
           {"transform": [{"filter": "datum.lbl === 'Total (95% CI)'"}], "mark": {"type": "text", "align": "right", "fontWeight": "bold", "dx": -8.3}, "encoding": {"x": {"datum": "yr", "type": "nominal", "scale": {"type": "point", "domain": ["name","s1","s2","s3","ce","ct","xe","xt","w","s9","s10","yr"], "range": [3.06, 403.35], "padding": 0}, "axis": null}, "text": {"field": "ci", "type": "nominal"}}},
           {"transform": [{"filter": "datum.lbl === 'Total events'"}], "mark": {"type": "text", "align": "left"}, "encoding": {"x": {"datum": "name", "type": "nominal", "scale": {"type": "point", "domain": ["name","s1","s2","s3","ce","ct","xe","xt","w","s9","s10","yr"], "range": [3.06, 403.35], "padding": 0}, "axis": null}, "text": {"field": "lbl", "type": "nominal"}}},
           {"transform": [{"filter": "datum.lbl === 'Total events'"}, {"fold": ["ce","xe"], "as": ["col","val"]}], "mark": {"type": "text", "align": "right"}, "encoding": {"x": {"field": "col", "type": "nominal", "scale": {"type": "point", "domain": ["name","s1","s2","s3","ce","ct","xe","xt","w","s9","s10","yr"], "range": [3.06, 403.35], "padding": 0}, "axis": null}, "text": {"field": "val", "type": "nominal"}}},
           {"transform": [{"filter": "isValid(datum.txt)"}], "mark": {"type": "text", "align": "left"}, "encoding": {"x": {"datum": "name", "type": "nominal", "scale": {"type": "point", "domain": ["name","s1","s2","s3","ce","ct","xe","xt","w","s9","s10","yr"], "range": [3.06, 403.35], "padding": 0}, "axis": null}, "text": {"field": "txt", "type": "nominal"}}}
         ]},
        {"data": {"name": "summary"}, "transform": [{"filter": "datum.panel === 'D' && datum.lbl === 'Total (95% CI)'"}],
         "mark": {"type": "rule", "color": "#000", "y2Offset": -24.32},
         "encoding": {"x": {"datum": 1, "type": "quantitative", "scale": {"type": "log", "domain": [0.1, 10], "range": [433.3, 596.7], "clamp": true, "nice": false},
           "axis": {"orient": "bottom", "offset": -24.32, "values": [0.1, 0.2, 0.5, 1, 2, 5, 10], "format": "~g", "labelFlush": true, "labelOverlap": false, "grid": false, "tickSize": 4, "tickColor": "#000", "domainColor": "#000", "labelColor": "#1a1a1a", "labelFontSize": 10, "labelPadding": 2, "title": "decrease risk\u00a0\u00a0\u00a0 increase risk", "titleFontSize": 10, "titleFontWeight": "normal", "titleColor": "#333", "titlePadding": 2}}}},
        {"data": {"name": "studies"}, "transform": [{"filter": "datum.panel === 'D'"}],
         "encoding": {"y": {"field": "lbl", "type": "nominal", "scale": {"type": "point", "domain": ["Sasijit Vejbaesya 2000","S.-L. Zhang 2002","Min-Chien Yu 2004"," ","Total (95% CI)","Total events","Heterogeneity","Test"], "padding": 0.6}, "axis": null}},
         "layer": [
           {"mark": {"type": "rule", "color": "#000"}, "encoding": {"x": {"field": "lo", "type": "quantitative", "scale": {"type": "log", "domain": [0.1, 10], "range": [433.3, 596.7], "clamp": true, "nice": false}, "axis": null}, "x2": {"field": "hi"}}},
           {"mark": {"type": "point", "shape": "square", "filled": true, "opacity": 1, "color": "#000"}, "encoding": {"x": {"field": "or", "type": "quantitative", "scale": {"type": "log", "domain": [0.1, 10], "range": [433.3, 596.7], "clamp": true, "nice": false}, "axis": null}, "size": {"field": "w", "type": "quantitative", "scale": {"domain": [0, 1], "range": [0, 160]}, "legend": null}}}
         ]},
        {"data": {"name": "summary"}, "transform": [{"filter": "datum.panel === 'D' && datum.lbl === 'Total (95% CI)'"}, {"fold": ["lo","or","hi"], "as": ["k","v"]}],
         "mark": {"type": "trail", "color": "#000"},
         "encoding": {"x": {"field": "v", "type": "quantitative", "scale": {"type": "log", "domain": [0.1, 10], "range": [433.3, 596.7], "clamp": true, "nice": false}, "axis": {"orient": "bottom", "offset": -24.32, "values": [0.1, 0.2, 0.5, 1, 2, 5, 10], "labels": false, "domain": false, "grid": false, "tickSize": -3, "tickColor": "#000", "title": null}},
                      "y": {"field": "lbl", "type": "nominal", "scale": {"type": "point", "domain": ["Sasijit Vejbaesya 2000","S.-L. Zhang 2002","Min-Chien Yu 2004"," ","Total (95% CI)","Total events","Heterogeneity","Test"], "padding": 0.6}, "axis": null},
                      "size": {"condition": {"test": "datum.k === 'or'", "value": 9}, "value": 0}}}
      ]
    }
  ]
}
